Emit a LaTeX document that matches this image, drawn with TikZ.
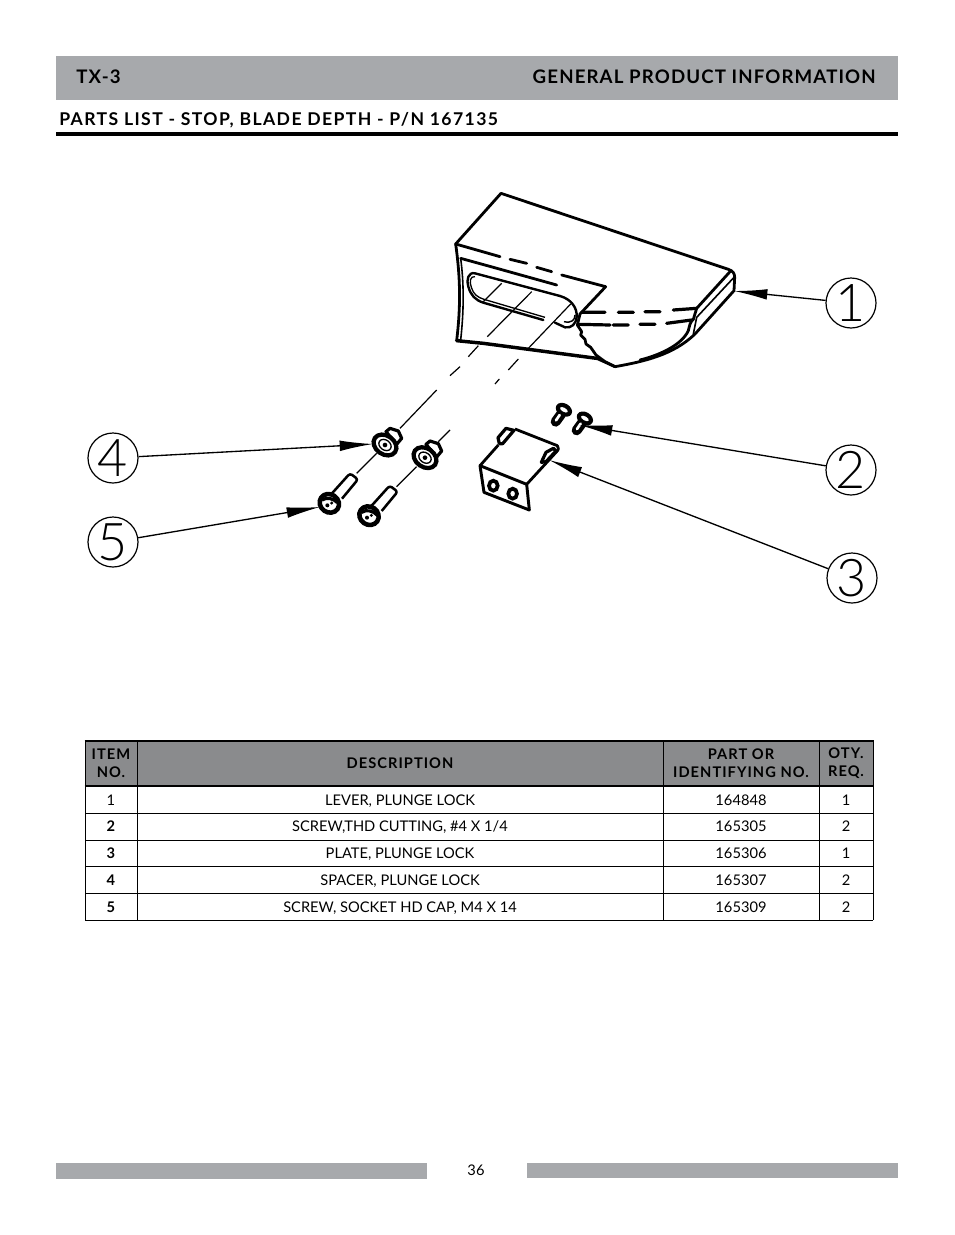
\documentclass[tikz,border=0pt]{standalone}
\usepackage{fontspec}
\setmainfont{Lato}
\newfontfamily\thinnum{Lato Light}
\newfontfamily\headface[LetterSpace=6]{Lato Bold}
\newfontfamily\titleface[LetterSpace=8]{Lato Bold}
\newfontfamily\thface[LetterSpace=7]{Lato Bold}
\usetikzlibrary{arrows.meta}
\definecolor{bargray}{HTML}{A7A9AC}
\definecolor{headgray}{HTML}{8A8B8D}
\newcommand{\spacerpart}[2]{%
\begin{scope}[shift={(#1,#2)}]
\draw[fill=white,line width=2.4pt,line join=round] (3,-40) -- (15,-50) -- (40,-42) -- (50,-20) -- (35,-2) -- cycle;
\draw[fill=white,line width=3.2pt,rotate=-35] (0,0) ellipse [x radius=37,y radius=28];
\draw[line width=1pt,rotate=-35] (0,0) ellipse [x radius=20,y radius=15];
\fill (0,0) circle [radius=7];
\end{scope}}
\newcommand{\capscrew}[2]{%
\begin{scope}[shift={(#1,#2)}]
\draw[fill=white,line width=1.9pt,line join=round,rounded corners=2pt] (8,-30) -- (62,-90) -- (86,-72) -- (38,-14);
\draw[fill=white,line width=3.4pt,rotate=-35] (0,0) ellipse [x radius=30,y radius=27];
\fill (-6,6) circle [radius=6]; \fill (7,-1) circle [radius=5];
\draw[line width=2.4pt] (-22,-10) .. controls (-8,-20) and (14,-14) .. (24,-2);
\end{scope}}
\newcommand{\thdscrew}[2]{%
\begin{scope}[shift={(#1,#2)}]
\draw[line width=7.5pt,line cap=round] (-18,28) -- (-2,6);
\fill[rotate=-30] (2,-10) ellipse [x radius=26,y radius=19];
\draw[white,line width=2pt,line cap=round] (-17,24) -- (-6,8);
\fill[white,rotate=-30] (2,-10) ellipse [x radius=13,y radius=6];
\end{scope}}
\tikzset{
 px/.style={x=.75pt,y=-.75pt},
 tinyz/.style={x=.25pt,y=-.25pt},
 bar/.style={fill=bargray,draw=none},
 headtxt/.style={font=\fontsize{14}{15}\headface,inner sep=0pt,text height=9.5pt,text depth=0pt},
 titletxt/.style={font=\fontsize{13.2}{15}\titleface,inner sep=0pt,text height=9.5pt,text depth=0pt},
 thtxt/.style={font=\fontsize{11}{13.6}\thface,inner sep=0pt,align=center},
 tdtxt/.style={font=\fontsize{11}{13}\selectfont,inner sep=0pt,text height=8pt,text depth=0pt},
 tdb/.style={font=\fontsize{11}{13}\selectfont\bfseries,inner sep=0pt,text height=8pt,text depth=0pt},
 balloon/.style={circle,draw,line width=.9pt,minimum size=37.5pt,inner sep=0pt,font=\fontsize{39}{39}\thinnum},
 leader/.style={-{Latex[length=25pt,width=8pt]},line width=1pt},
 lev/.style={line width=2.1pt,line join=round,line cap=round},
 axisln/.style={line width=.9pt},
 rule/.style={line width=.75pt}
}
\begin{document}
\begin{tikzpicture}[px]
\useasboundingbox (0,0) rectangle (954,1235);
% header
\fill[bar] (56,56) rectangle (898,100);
\node[headtxt,anchor=west] (tx) at (76,77.5) {TX-3};
\node[headtxt,anchor=east] (gpi) at (876,77.5) {GENERAL PRODUCT INFORMATION};
\node[titletxt,anchor=west] (pl) at (59,119.5) {PARTS LIST - STOP, BLADE DEPTH - P/N 167135};
\fill (56,132) rectangle (898,136);
% lever
\begin{scope}[shift={(440,180)},tinyz]
\draw[lev] (47,192) -- (183,40) -- (865,268) .. controls (878,272) and (884,280) .. (884,292) -- (882,332) -- (765,462)
  .. controls (700,525) and (610,545) .. (525,560);
\draw[lev] (870,275) -- (770,385) -- (760,418) .. controls (750,425) and (748,440) .. (745,452) .. controls (725,495) and (660,525) .. (600,540);
\draw[line width=1.2pt] (882,292) -- (770,412) -- (760,462);
\draw[lev] (47,192) .. controls (62,300) and (62,380) .. (50,482);
\draw[line width=1.2pt] (62,235) .. controls (72,310) and (72,390) .. (62,480);
\draw[lev,line width=2.6pt] (50,482) -- (130,490) -- (470,535);
\draw[lev] (470,535) -- (525,560);
% rupture
\draw[lev] (412,435) -- (425,455) -- (422,465) -- (435,478) -- (438,492) -- (452,502) -- (468,525) -- (495,545) -- (525,560);
% top edges
\draw[lev] (47,192) -- (180,230) (210,238) -- (260,250) (290,262) -- (335,275) (365,285) -- (497,320) -- (420,402) -- (412,435);
\draw[lev] (62,235) -- (160,262) -- (350,315);
% slot
\draw[lev,line width=1.8pt] (360,348) .. controls (395,358) and (412,385) .. (410,410) .. controls (408,432) and (395,445) .. (375,442) -- (345,428);
\draw[line width=1.1pt] (372,425) .. controls (395,430) and (405,420) .. (405,405);
\draw[lev,line width=1.8pt] (360,348) -- (105,280) .. controls (85,275) and (78,300) .. (85,320) .. controls (92,345) and (105,360) .. (130,368) -- (310,420);
\draw[line width=1pt] (105,290) .. controls (90,288) and (88,305) .. (94,322) .. controls (100,342) and (112,352) .. (132,358) -- (315,412);
% cross lines
\draw[axisln] (185,310) -- (130,365);
\draw[axisln] (275,335) -- (142,470);
\draw[axisln] (392,372) -- (265,505);
% dashed bores
\draw[lev,line width=2.4pt] (425,397) -- (495,397) (535,397) -- (580,397) (615,395) -- (660,395) (700,390) -- (770,385);
\draw[lev,line width=2.4pt] (415,433) -- (510,435) (520,435) -- (565,435) (600,433) -- (645,433) (680,430) -- (755,420);
% dashes
\draw[axisln] (115,497) -- (85,530) (60,560) -- (30,587);
\draw[axisln] (235,537) -- (205,570) (178,597) -- (165,612);
\end{scope}
% fasteners and axes
\begin{scope}[shift={(300,390)},tinyz]
\draw[axisln] (410,0) -- (300,115);
\draw[axisln] (230,190) -- (170,250);
\draw[axisln] (450,120) -- (415,155);
\draw[axisln] (350,230) -- (290,290);
\spacerpart{255}{165}
\spacerpart{375}{203}
\capscrew{88}{340}
\capscrew{207}{377}
\end{scope}
% bracket and small screws
\begin{scope}[shift={(470,395)},tinyz]
\draw[line width=2.1pt,line join=round] (30,212) -- (85,150) (135,102) -- (262,152) .. controls (268,158) and (266,165) .. (258,172) -- (170,268);
\draw[line width=2.2pt,line join=round] (30,212) -- (170,268) -- (178,345) -- (42,292) -- cycle;
\draw[line width=2.4pt,line join=round,line cap=round,fill=white] (88,146) -- (84,128) -- (108,100) -- (132,106) -- (98,146) -- cycle;
\draw[line width=2.4pt,line join=round,line cap=round,fill=white] (214,202) -- (228,172) -- (250,160) -- (258,168) -- (228,200) -- cycle;
\draw[line width=2.8pt] (70,272) ellipse [x radius=13,y radius=15];
\draw[line width=2.8pt] (128,296) ellipse [x radius=13,y radius=15];
\thdscrew{275}{52}
\thdscrew{338}{78}
\end{scope}
% balloons and leaders
\node[balloon] (b1) at (851,303) {1};
\node[balloon] (b2) at (851,470) {2};
\node[balloon] (b3) at (852,578) {3};
\node[balloon] (b4) at (113,458) {4};
\node[balloon] (b5) at (113,542) {5};
\coordinate (t1) at (734,291);
\coordinate (t2) at (579,425);
\coordinate (t3) at (549,460);
\coordinate (t4) at (373,444);
\coordinate (t5) at (320,507);
\draw[leader] (b1) -- (t1);
\draw[leader] (b2) -- (t2);
\draw[leader] (b3) -- (t3);
\draw[leader] (b4) -- (t4);
\draw[leader] (b5) -- (t5);
% table
\fill[headgray] (85,741) rectangle (873,786);
\draw[rule] (85,813) -- (873,813) (85,840) -- (873,840) (85,866) -- (873,866) (85,893) -- (873,893) (85,920) -- (873,920);
\draw[rule] (85,741) -- (85,920) (137,741) -- (137,920) (663,741) -- (663,920) (819,741) -- (819,920) (873,741) -- (873,920);
\draw[line width=1.5pt] (84.5,741) -- (873.5,741) (84.5,786) -- (873.5,786);
\node[thtxt] (h1) at (111,763.5) {ITEM\\NO.};
\node[thtxt] (h2) at (400,763.5) {DESCRIPTION};
\node[thtxt] (h3) at (741,763.5) {PART OR\\IDENTIFYING NO.};
\node[thtxt] (h4) at (846,763.5) {OTY.\\REQ.};
\node[tdtxt] (i1) at (111,800) {1};
\node[tdb] (i2) at (111,826.5) {2};
\node[tdb] (i3) at (111,853) {3};
\node[tdb] (i4) at (111,880) {4};
\node[tdb] (i5) at (111,907) {5};
\node[tdtxt] (d1) at (400,800) {LEVER, PLUNGE LOCK};
\node[tdtxt] (d2) at (400,826.5) {SCREW,THD CUTTING, \#4 X 1/4};
\node[tdtxt] (d3) at (400,853) {PLATE, PLUNGE LOCK};
\node[tdtxt] (d4) at (400,880) {SPACER, PLUNGE LOCK};
\node[tdtxt] (d5) at (400,907) {SCREW, SOCKET HD CAP, M4 X 14};
\node[tdtxt] (p1) at (741,800) {164848};
\node[tdtxt] (p2) at (741,826.5) {165305};
\node[tdtxt] (p3) at (741,853) {165306};
\node[tdtxt] (p4) at (741,880) {165307};
\node[tdtxt] (p5) at (741,907) {165309};
\node[tdtxt] (q1) at (846,800) {1};
\node[tdtxt] (q2) at (846,826.5) {2};
\node[tdtxt] (q3) at (846,853) {1};
\node[tdtxt] (q4) at (846,880) {2};
\node[tdtxt] (q5) at (846,907) {2};
% footer
\fill[bar] (56,1163) rectangle (427,1178.5);
\fill[bar] (332,1178) rectangle (427,1179);
\fill[bar] (345,1162.5) rectangle (427,1164);
\fill[bar] (527,1162.5) rectangle (898,1178);
\node[tdtxt] (pg) at (476,1170) {36};
\end{tikzpicture}
\end{document}
